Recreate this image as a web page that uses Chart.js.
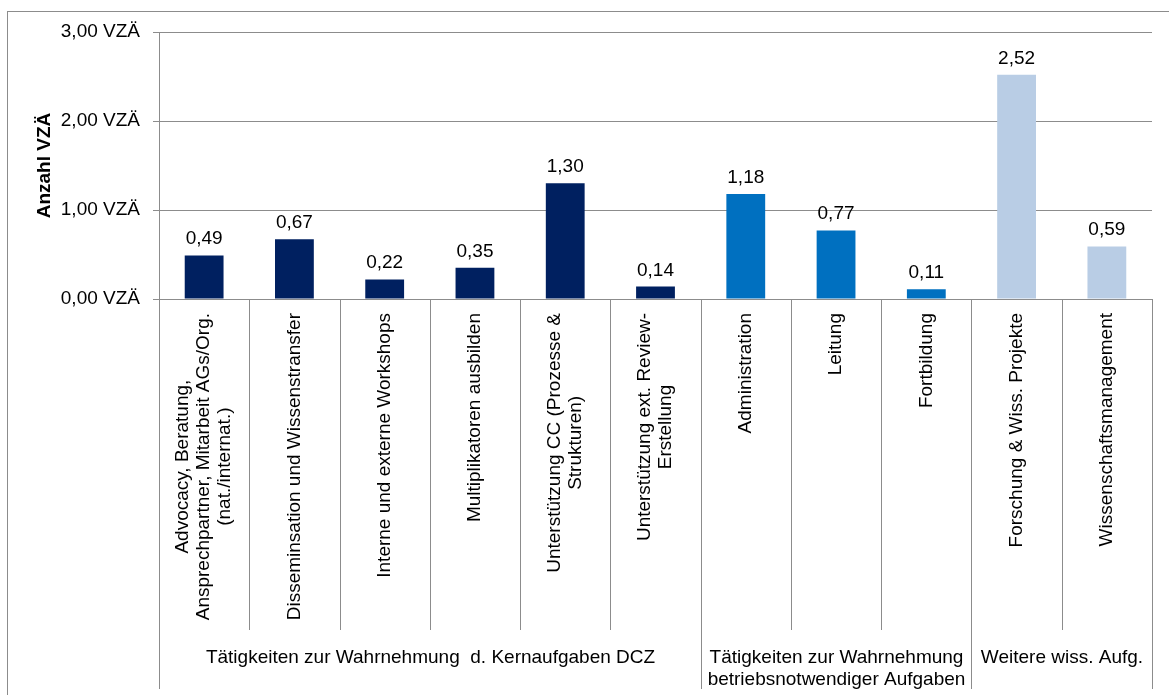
<!DOCTYPE html>
<html lang="de">
<head>
<meta charset="utf-8">
<title>Anzahl VZÄ</title>
<script src="https://cdn.jsdelivr.net/npm/chart.js@4"></script>
<style>
  html, body { margin: 0; padding: 0; background: #fff; }
  #wrap { width: 1169px; height: 695px; }
</style>
</head>
<body>
<div id="wrap"><canvas id="vzaChart" width="1169" height="695"></canvas></div>
<script>
// Kategorien (Zeilenumbrüche wie im Original)
const categories = [
  ["Advocacy, Beratung,", "Ansprechpartner, Mitarbeit AGs/Org.", "(nat./internat.)"],
  ["Disseminsation und Wissenstransfer"],
  ["Interne und externe Workshops"],
  ["Multiplikatoren ausbilden"],
  ["Unterstützung CC (Prozesse &", "Strukturen)"],
  ["Unterstützung ext. Review-", "Erstellung"],
  ["Administration"],
  ["Leitung"],
  ["Fortbildung"],
  ["Forschung & Wiss. Projekte"],
  ["Wissenschaftsmanagement"]
];

// Werte in VZÄ
const values = [0.49, 0.67, 0.22, 0.35, 1.30, 0.14, 1.18, 0.77, 0.11, 2.52, 0.59];

// Obergruppen und Anzahl Kategorien je Gruppe
const groupLabels = [
  ["Tätigkeiten zur Wahrnehmung  d. Kernaufgaben DCZ"],
  ["Tätigkeiten zur Wahrnehmung", "betriebsnotwendiger Aufgaben"],
  ["Weitere wiss. Aufg."]
];
const groupSizes = [6, 3, 2];

// Y-Achse
const yTicks = [0, 1, 2, 3];

const groupColors = ["#002060", "#0070c0", "#b9cde5"];
const FONT = "'Liberation Sans', Arial, sans-serif";
const GRID = "#8c8c8c";

const barColors = [];
groupSizes.forEach((n, g) => { for (let i = 0; i < n; i++) barColors.push(groupColors[g]); });

const fmt = (v) => v.toFixed(2).replace(".", ",");

// Rahmen, Trennlinien, Beschriftungen
const decoPlugin = {
  id: "deco",
  beforeDraw(chart) {
    const ctx = chart.ctx;
    ctx.save();
    ctx.strokeStyle = GRID;
    ctx.lineWidth = 1;
    ctx.strokeRect(7.5, 11.5, 1300, 1000);
    ctx.restore();
  },
  afterDraw(chart) {
    const ctx = chart.ctx;
    const area = chart.chartArea;
    const x = chart.scales.x;
    const n = categories.length;
    const step = (area.right - area.left) / n;
    const edge = (i) => Math.round(area.left + i * step) + 0.5;

    // Gruppengrenzen
    const bounds = [0];
    groupSizes.reduce((a, s) => { bounds.push(a + s); return a + s; }, 0);

    ctx.save();
    ctx.strokeStyle = GRID;
    ctx.lineWidth = 1;
    for (let i = 0; i <= n; i++) {
      const isGroup = bounds.includes(i);
      ctx.beginPath();
      ctx.moveTo(edge(i), area.bottom);
      ctx.lineTo(edge(i), isGroup ? 689 : 630);
      ctx.stroke();
    }

    // Kategorienamen, um 90° gedreht
    ctx.fillStyle = "#000";
    ctx.font = "19px " + FONT;
    ctx.textBaseline = "middle";
    ctx.textAlign = "center";
    const lh = 21;
    categories.forEach((lines, i) => {
      const cx = x.getPixelForValue(i);
      const w = Math.max(...lines.map((l) => ctx.measureText(l).width));
      ctx.save();
      ctx.translate(cx, area.bottom + 14);
      ctx.rotate(-Math.PI / 2);
      lines.forEach((l, j) => {
        ctx.fillText(l, -w / 2, (j - (lines.length - 1) / 2) * lh);
      });
      ctx.restore();
    });

    // Gruppennamen
    groupLabels.forEach((lines, g) => {
      const cx = (edge(bounds[g]) + edge(bounds[g + 1])) / 2;
      lines.forEach((l, j) => ctx.fillText(l, cx, 658 + j * 22));
    });

    // Datenbeschriftung
    const meta = chart.getDatasetMeta(0);
    ctx.textBaseline = "alphabetic";
    meta.data.forEach((bar, i) => {
      ctx.fillText(fmt(values[i]), bar.x, bar.y - 11);
    });
    ctx.restore();
  }
};

new Chart(document.getElementById("vzaChart"), {
  type: "bar",
  data: {
    labels: categories,
    datasets: [{
      label: "Anzahl VZÄ",
      data: values,
      backgroundColor: barColors,
      borderWidth: 0,
      barPercentage: 0.43,
      categoryPercentage: 1
    }]
  },
  options: {
    responsive: false,
    animation: false,
    devicePixelRatio: 1,
    layout: { padding: { left: 0, top: 32, right: 17, bottom: 396 } },
    plugins: {
      legend: { display: false },
      tooltip: { enabled: false }
    },
    scales: {
      x: { display: false },
      y: {
        min: 0,
        max: 3,
        afterFit: (s) => { s.width = 159; },
        afterBuildTicks: (s) => { s.ticks = yTicks.map((v) => ({ value: v })); },
        ticks: {
          color: "#000",
          padding: 13,
          font: { family: FONT, size: 19 },
          callback: (v) => fmt(v) + " VZÄ"
        },
        grid: { color: GRID, tickLength: 6, lineWidth: 1 },
        border: { display: true, color: GRID },
        title: {
          display: true,
          text: "Anzahl VZÄ",
          color: "#000",
          font: { family: FONT, size: 19, weight: "bold" },
          padding: { top: 33, bottom: 0 }
        }
      }
    }
  },
  plugins: [decoPlugin]
});
</script>
</body>
</html>
